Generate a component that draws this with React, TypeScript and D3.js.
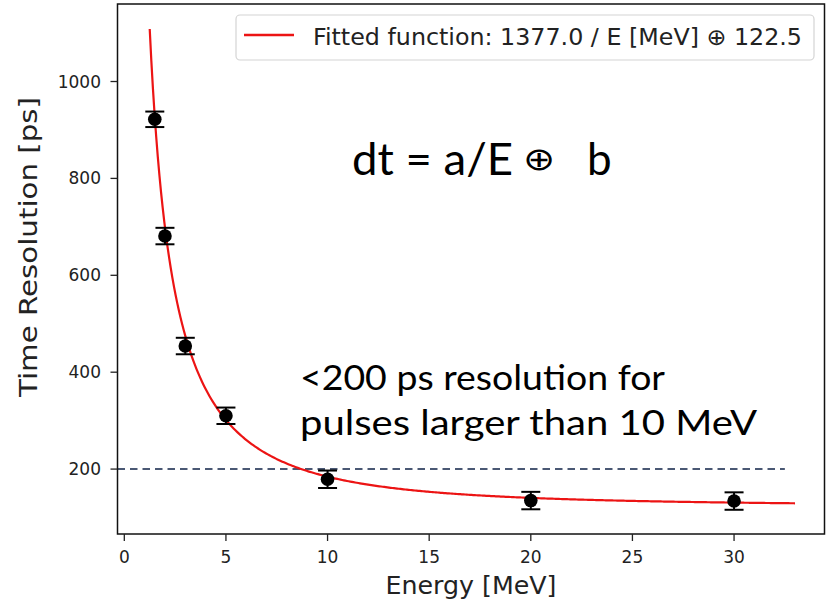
import React from "react";
import * as d3 from "d3";

// Data
const energies = [1.5, 2, 3, 5, 10, 20, 30];
const resolutions = [922, 681, 454, 310, 179, 135, 134];
const errors = [16, 17, 17, 17, 18, 18, 18];
const xTicks = [0, 5, 10, 15, 20, 25, 30];
const yTicks = [200, 400, 600, 800, 1000];
// Fit parameters shown in the legend
const fitA = 1377.0;
const fitB = 122.5;
const fitRange = [1.25, 33];
const thresholdLevel = 200;
const thresholdEnd = 32.5;

const W = 827;
const H = 603;
const left = 117.5, right = 824.5, top = 4, bottom = 534;

export default function App() {
  const x = d3.scaleLinear().domain([-0.335, 34.45]).range([left, right]);
  const y = d3.scaleLinear().domain([66, 1160]).range([bottom, top]);

  const fitXs = d3.range(0, 400).map((i) => fitRange[0] + (i / 399) * (fitRange[1] - fitRange[0]));
  const fitLine = d3
    .line<number>()
    .x((e) => x(e))
    .y((e) => y(Math.sqrt((fitA / e) ** 2 + fitB ** 2)))
    .curve(d3.curveLinear)(fitXs) as string;

  const red = "#ec1414";
  const tickFont = "DejaVu Sans, sans-serif";
  const annFont = "Lato, 'Open Sans', sans-serif";

  return (
    <svg width={W} height={H} style={{ position: "absolute", left: 0, top: 0, background: "#fff" }}>
      <rect x={0} y={0} width={W} height={H} fill="#fff" />
      {/* threshold dashed line */}
      <line
        x1={left}
        x2={x(thresholdEnd)}
        y1={y(thresholdLevel)}
        y2={y(thresholdLevel)}
        stroke="#4a5874"
        strokeWidth={2}
        strokeDasharray="7.5,5"
      />
      {/* fit */}
      <path d={fitLine} fill="none" stroke={red} strokeWidth={2.2} />
      {/* error bars and points */}
      {energies.map((e, i) => {
        const cx = x(e);
        const yl = y(resolutions[i] - errors[i]);
        const yh = y(resolutions[i] + errors[i]);
        return (
          <g key={i}>
            <line x1={cx} x2={cx} y1={yl} y2={yh} stroke="#000" strokeWidth={2} />
            <line x1={cx - 9.5} x2={cx + 9.5} y1={yl} y2={yl} stroke="#000" strokeWidth={2} />
            <line x1={cx - 9.5} x2={cx + 9.5} y1={yh} y2={yh} stroke="#000" strokeWidth={2} />
            <circle cx={cx} cy={y(resolutions[i])} r={6.8} fill="#000" />
          </g>
        );
      })}
      {/* spines */}
      <rect x={left} y={top} width={right - left} height={bottom - top} fill="none" stroke="#111" strokeWidth={1.5} />
      {/* x ticks */}
      {xTicks.map((t) => (
        <g key={t}>
          <line x1={x(t)} x2={x(t)} y1={bottom} y2={bottom + 7} stroke="#222" strokeWidth={1.3} />
          <text x={x(t)} y={563} textAnchor="middle" fontFamily={tickFont} fontSize={17} fill="#222">
            {t}
          </text>
        </g>
      ))}
      {/* y ticks */}
      {yTicks.map((t) => (
        <g key={t}>
          <line x1={left - 7} x2={left} y1={y(t)} y2={y(t)} stroke="#222" strokeWidth={1.3} />
          <text x={101} y={y(t) + 6} textAnchor="end" fontFamily={tickFont} fontSize={17} fill="#222">
            {t}
          </text>
        </g>
      ))}
      {/* axis labels */}
      <text x={471} y={594} textAnchor="middle" fontFamily={tickFont} fontSize={24} fill="#222" textLength={171} lengthAdjust="spacingAndGlyphs">
        Energy [MeV]
      </text>
      <text
        transform={`translate(37,247) rotate(-90)`}
        textAnchor="middle"
        fontFamily={tickFont}
        fontSize={25}
        fill="#222"
        textLength={300}
        lengthAdjust="spacingAndGlyphs"
      >
        Time Resolution [ps]
      </text>
      {/* legend */}
      <rect x={236} y={15} width={578} height={45} rx={4} fill="#fff" stroke="#d4d4d4" strokeWidth={1.2} />
      <line x1={244} x2={294} y1={35} y2={35} stroke={red} strokeWidth={2.5} />
      <text x={313} y={45} fontFamily={tickFont} fontSize={23} fill="#222" textLength={489} lengthAdjust="spacingAndGlyphs">
        Fitted function: 1377.0 / E [MeV] ⊕ 122.5
      </text>
      {/* annotations */}
      <text x={352} y={175} fontFamily={annFont} fontSize={44} fill="#000" textLength={161} lengthAdjust="spacingAndGlyphs">
        dt = a/E
      </text>
      <text
        transform="translate(539,170) scale(1.2,1)"
        textAnchor="middle"
        fontFamily="DejaVu Sans, sans-serif"
        fontWeight={200}
        fontSize={32}
        fill="#000"
      >
        ⊕
      </text>
      <text x={587} y={175} fontFamily={annFont} fontSize={44} fill="#000">
        b
      </text>
      <text x={300} y={390} fontFamily={annFont} fontSize={35} fill="#000" textLength={365} lengthAdjust="spacingAndGlyphs">
        &lt;200 ps resolution for
      </text>
      <text x={300} y={435} fontFamily={annFont} fontSize={35} fill="#000" textLength={457} lengthAdjust="spacingAndGlyphs">
        pulses larger than 10 MeV
      </text>
    </svg>
  );
}
